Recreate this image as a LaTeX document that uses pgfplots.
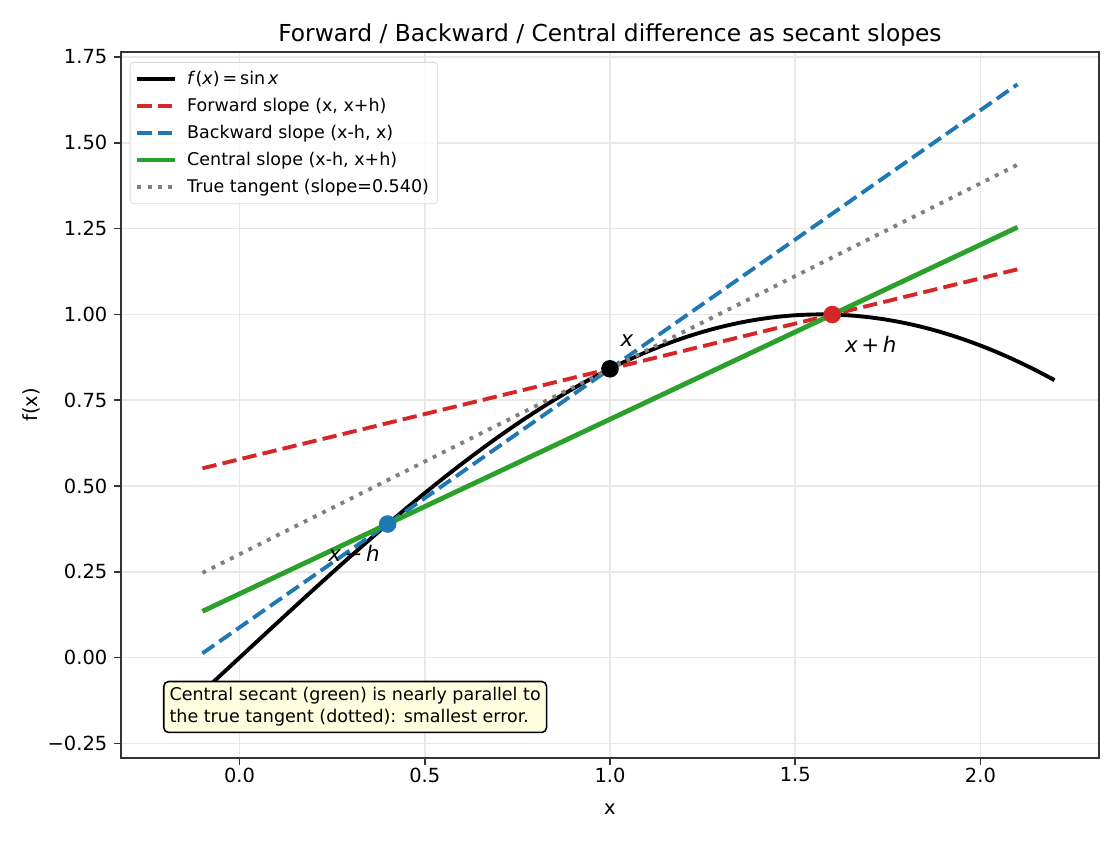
\documentclass[border=0pt]{standalone}
\usepackage{fontspec}
\setmainfont{DejaVu Sans}
\usepackage{pgfplots}
\pgfplotsset{compat=1.18}
\definecolor{tred}{HTML}{D62728}
\definecolor{tblue}{HTML}{1F77B4}
\definecolor{tgreen}{HTML}{2CA02C}
\definecolor{tgray}{HTML}{7F7F7F}
\definecolor{boxyellow}{HTML}{FFFFE0}
\newcommand{\LE}[1]{\hspace{3pt}#1}
\begin{document}
\begin{tikzpicture}
\begin{axis}[
  scale only axis,
  width=503pt, height=363pt,
  xmin=-0.32, xmax=2.32, ymin=-0.292, ymax=1.764,
  xtick={0,0.5,1,1.5,2},
  xticklabels={0.0,0.5,1.0,1.5,2.0},
  ytick={-0.25,0,0.25,0.5,0.75,1,1.25,1.5,1.75},
  yticklabels={−0.25,0.00,0.25,0.50,0.75,1.00,1.25,1.50,1.75},
  ticklabel style={font=\fontsize{10}{12}\selectfont},
  xticklabel style={yshift=2pt},
  tick align=outside, xtick pos=lower, ytick pos=left,
  major tick length=3.5pt,
  tick style={black!80, line width=0.8pt},
  axis line style={black!80, line width=0.8pt},
  grid=major,
  major grid style={black!9, line width=0.8pt},
  xlabel={x}, ylabel={f(x)},
  label style={font=\fontsize{10}{12}\selectfont},
  xlabel style={yshift=-4pt},
  ylabel style={yshift=-3pt},
  title={Forward / Backward / Central difference as secant slopes},
  title style={font=\fontsize{12}{14}\selectfont, yshift=-6.5pt},
  legend style={at={(rel axis cs:0.009,0.986)}, anchor=north west,
    font=\fontsize{9}{12}\selectfont, draw=black!15, rounded corners=2pt,
    fill=white, fill opacity=0.8, text opacity=1, inner sep=2.5pt,
    row sep=1.5pt},
  legend cell align=left,
  legend image code/.code={\draw[#1] (0cm,0cm) -- (0.68cm,0cm);},
]
\addplot[black, line width=2pt, smooth] coordinates {
(-0.20,-0.19867) (-0.15,-0.14944) (-0.10,-0.09983) (-0.05,-0.04998)
(0.00,0) (0.05,0.04998) (0.10,0.09983) (0.15,0.14944) (0.20,0.19867)
(0.25,0.24740) (0.30,0.29552) (0.35,0.34290) (0.40,0.38942) (0.45,0.43497)
(0.50,0.47943) (0.55,0.52269) (0.60,0.56464) (0.65,0.60519) (0.70,0.64422)
(0.75,0.68164) (0.80,0.71736) (0.85,0.75128) (0.90,0.78333) (0.95,0.81342)
(1.00,0.84147) (1.05,0.86742) (1.10,0.89121) (1.15,0.91276) (1.20,0.93204)
(1.25,0.94898) (1.30,0.96356) (1.35,0.97572) (1.40,0.98545) (1.45,0.99271)
(1.50,0.99749) (1.55,0.99978) (1.60,0.99957) (1.65,0.99687) (1.70,0.99166)
(1.75,0.98399) (1.80,0.97385) (1.85,0.96128) (1.90,0.94630) (1.95,0.92896)
(2.00,0.90930) (2.05,0.88736) (2.10,0.86321) (2.15,0.83690) (2.20,0.80850)};
\addlegendentry{\LE{\textit{f}(\textit{x})\,=\,sin\,\textit{x}}}
\addplot[only marks, mark=*, mark size=4.3pt, black, forget plot] coordinates {(1.0,0.84147)};
\addplot[only marks, mark=*, mark size=4.3pt, tblue, forget plot] coordinates {(0.4,0.38942)};
\addplot[only marks, mark=*, mark size=4.3pt, tred, forget plot] coordinates {(1.6,0.99957)};
\addplot[tred, line width=2pt, dash pattern=on 7.4pt off 3.2pt] coordinates {(-0.1,0.5516) (2.1,1.1313)};
\addlegendentry{\LE{Forward slope (x, x+h)}}
\addplot[tblue, line width=2pt, dash pattern=on 7.4pt off 3.2pt] coordinates {(-0.1,0.0127) (2.1,1.6702)};
\addlegendentry{\LE{Backward slope (x-h, x)}}
\addplot[tgreen, line width=2.5pt] coordinates {(-0.1,0.1352) (2.1,1.2538)};
\addlegendentry{\LE{Central slope (x-h, x+h)}}
\addplot[tgray, line width=2pt, dash pattern=on 2pt off 3.3pt] coordinates {(-0.1,0.2471) (2.1,1.4358)};
\addlegendentry{\LE{True tangent (slope=0.540)}}
\node[font=\fontsize{11}{13}\selectfont] at (axis cs:1.046,0.924) {\textit{x}};
\node[font=\fontsize{11}{13}\selectfont] at (axis cs:1.704,0.913) {\textit{x}\,+\,\textit{h}};
\node[font=\fontsize{11}{13}\selectfont] at (axis cs:0.309,0.304) {\textit{x}\,−\,\textit{h}};
\node[anchor=south west, draw=black, fill=boxyellow, rounded corners=2.5pt,
  line width=0.8pt, align=left, inner sep=3pt,
  font=\fontsize{9}{11.5}\selectfont] at (rel axis cs:0.043,0.035)
  {Central secant (green) is nearly parallel to\\the true tangent (dotted): smallest error.};
\coordinate (sw) at (rel axis cs:0,0);
\end{axis}
\pgfresetboundingbox
\path (sw) ++(-62.2pt,-42.2pt) rectangle ++(576pt,432pt);
\end{tikzpicture}
\end{document}
